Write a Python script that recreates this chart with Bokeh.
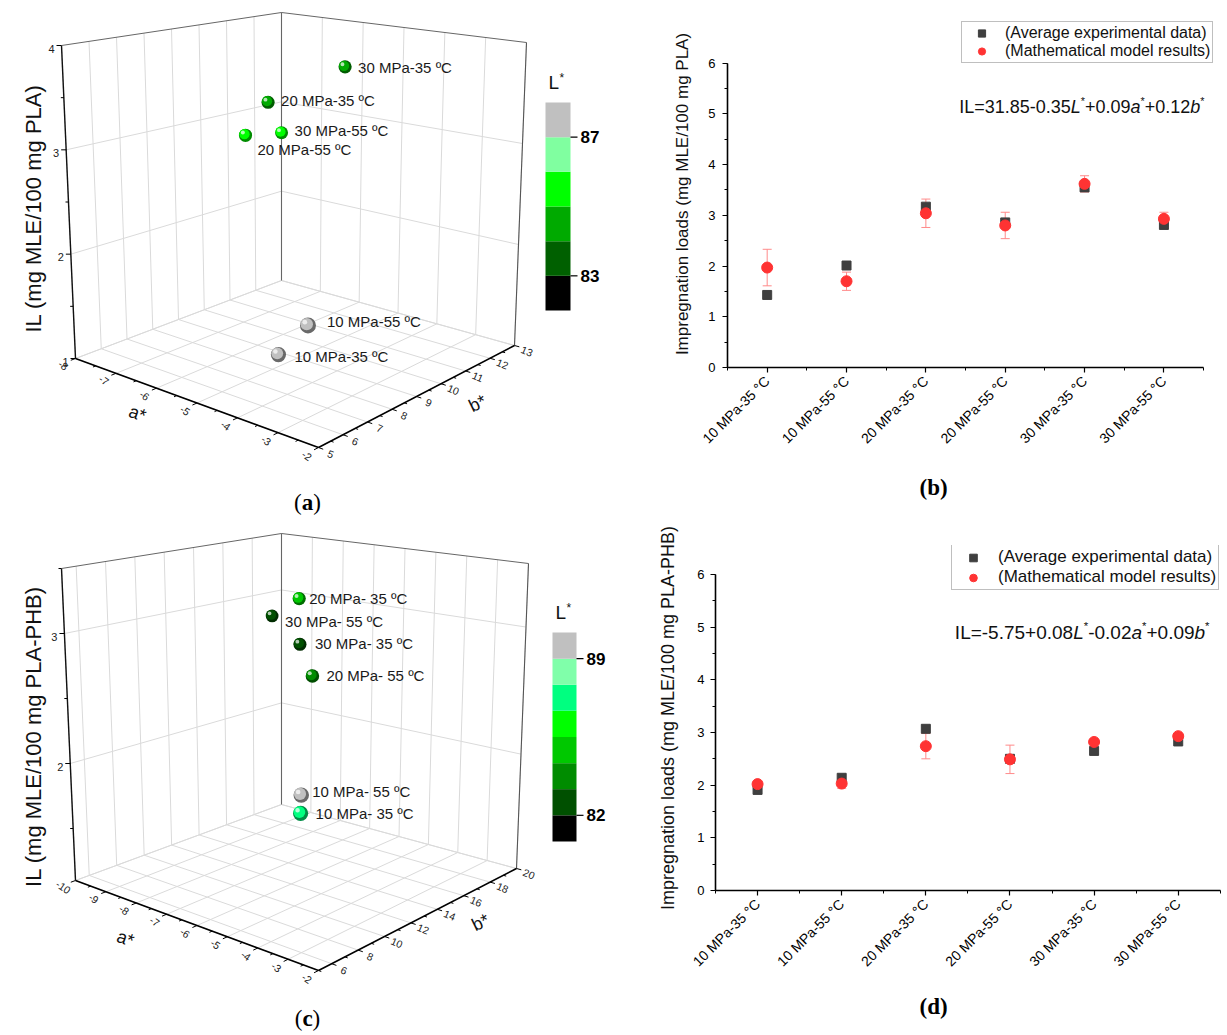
import numpy as np
from bokeh.plotting import figure
from bokeh.models import (Range1d, FixedTicker, SingleIntervalTicker, Whisker, TeeHead,
                          ColumnDataSource, Legend, LegendItem, Title)
from bokeh.layouts import row, column
from bokeh.core.properties import value
from bokeh.embed import file_html
from bokeh.resources import INLINE

SANS = "Liberation Sans"
SERIF = "Liberation Serif"

# ------------------------------------------------------------------ data
conditions = ["10 MPa-35 °C", "10 MPa-55 °C", "20 MPa-35 °C",
              "20 MPa-55 °C", "30 MPa-35 °C", "30 MPa-55 °C"]

# (b) PLA : impregnation loads
exp_pla = [1.43, 2.01, 3.17, 2.86, 3.55, 2.81]
model_pla = [1.97, 1.70, 3.04, 2.80, 3.62, 2.93]
model_err_pla = [0.36, 0.18, 0.28, 0.26, 0.16, 0.13]

# (d) PLA-PHB : impregnation loads
exp_phb = [1.91, 2.14, 3.07, 2.50, 2.65, 2.83]
model_phb = [2.02, 2.03, 2.74, 2.49, 2.82, 2.93]
model_err_phb = [0.03, 0.09, 0.24, 0.27, 0.04, 0.03]

# (a) PLA : colour coordinates (IL on vertical axis = exp_pla)
labels_pla = ["10 MPa-35 ºC", "10 MPa-55 ºC", "20 MPa-35 ºC",
              "20 MPa-55 ºC", "30 MPa-35 ºC", "30 MPa-55 ºC"]
astar_pla = [-3.9, -2.3, -7.2, -7.3, -6.1, -7.2]
bstar_pla = [6.5, 5.1, 11.3, 10.6, 12.5, 11.8]
lstar_pla = [87.6, 87.4, 84.4, 85.4, 84.2, 85.6]

# (c) PLA-PHB : colour coordinates (IL on vertical axis = exp_phb)
labels_phb = ["10 MPa- 35 ºC", "10 MPa- 55 ºC", "20 MPa- 35 ºC",
              "20 MPa- 55 ºC", "30 MPa- 35 ºC", "30 MPa- 55 ºC"]
astar_phb = [-4.15, -3.5, -8.2, -7.3, -8.5, -9.6]
bstar_phb = [8.6, 7.2, 17.4, 16.4, 18.1, 18.5]
lstar_phb = [87.2, 89.4, 84.6, 84.0, 82.9, 82.6]

# 3D axis ranges / ticks
a_range_pla, b_range_pla, il_range_pla = (-8, -2), (5, 13), (1, 4)
a_ticks_pla = [-8, -7, -6, -5, -4, -3, -2]
b_ticks_pla = [5, 6, 7, 8, 9, 10, 11, 12, 13]
il_ticks_pla = [1, 2, 3, 4]

a_range_phb, b_range_phb, il_range_phb = (-10, -2), (5, 20), (1.1, 3.5)
a_ticks_phb = [-10, -9, -8, -7, -6, -5, -4, -3, -2]
b_ticks_phb = [6, 8, 10, 12, 14, 16, 18, 20]
il_ticks_phb = [2, 3]

# L* colour scales
lstar_levels_pla = [82, 83, 84, 85, 86, 87, 88]
lstar_colors_pla = ["#000000", "#006000", "#00aa00", "#00ff00", "#80ffa0", "#c0c0c0"]
lstar_ticks_pla = [83, 87]

lstar_levels_phb = [80.83, 82, 83.17, 84.33, 85.5, 86.67, 87.83, 89, 90.17]
lstar_colors_phb = ["#000000", "#005000", "#008c00", "#00c800", "#00ff00",
                    "#00ff80", "#80ffaa", "#c0c0c0"]
lstar_ticks_phb = [82, 89]

# ------------------------------------------------------------------ helpers
ARIAL_W = {str(d): 0.556 for d in range(10)}
ARIAL_W.update({'.': .278, '+': .584, '-': .333, '=': .584, 'I': .278, 'L': .556,
                'a': .556, 'b': .556, '*': .389, ' ': .278, '(': .333, ')': .333})
TIMES_BOLD = {'a': .5, 'b': .556, 'c': .444, 'd': .556}


def tw(s, fs):
    return sum(ARIAL_W.get(c, 0.556) for c in s) * fs


def shade(h, f):
    h = h.lstrip('#')
    r, g, b = int(h[0:2], 16), int(h[2:4], 16), int(h[4:6], 16)
    return "#%02x%02x%02x" % (int(r * f), int(g * f), int(b * f))


def no_align(p):
    if "frame_align" in p.properties():
        p.frame_align = False


def make_proj(g, ar, br, zr):
    L, F, K, R = [np.array(g[k], float) for k in ("L", "F", "K", "R")]
    VL, VF, VK, VR = [np.array(g[k], float) for k in ("VL", "VF", "VK", "VR")]

    def proj(a, b, z):
        a, b, z = np.broadcast_arrays(np.asarray(a, float), np.asarray(b, float),
                                      np.asarray(z, float))
        u = (a - ar[0]) / (ar[1] - ar[0])
        v = (b - br[0]) / (br[1] - br[0])
        w = (z - zr[0]) / (zr[1] - zr[0])
        c00 = ((1 - u) * (1 - v))[..., None]
        c10 = (u * (1 - v))[..., None]
        c01 = ((1 - u) * v)[..., None]
        c11 = (u * v)[..., None]
        base = c00 * L + c10 * F + c01 * K + c11 * R
        vert = c00 * VL + c10 * VF + c01 * VK + c11 * VR
        pt = base + w[..., None] * vert
        return pt[..., 0], pt[..., 1]
    return proj


def minors(ticks, lo, hi):
    step = ticks[1] - ticks[0]
    out = []
    t = ticks[0] - step / 2.0
    while t <= hi + 1e-9:
        if t >= lo - 1e-9:
            out.append(t)
        t += step
    return out


def build_3d(c):
    p = figure(width=c["w"], height=c["h"], x_range=Range1d(*c["xr"]), y_range=Range1d(*c["yr"]),
               x_axis_type=None, y_axis_type=None, output_backend="svg", title=None,
               toolbar_location=None, min_border=0)
    no_align(p)
    p.outline_line_color = None
    p.background_fill_color = "white"
    ar, br, zr = c["ar"], c["br"], c["zr"]
    a0, a1 = ar
    b0, b1 = br
    z0, z1 = zr
    proj = make_proj(c["geom"], ar, br, zr)

    def pt(a, b, z):
        x, y = proj(a, b, z)
        return float(x), float(y)

    ga = sorted(set(c["a_ticks"]) | {a0, a1})
    gb = sorted(set(c["b_ticks"]) | {b0, b1})
    gz = sorted(set(t for t in c["z_ticks"] if t < z1) | {z0})

    segs = []
    for a in ga:
        segs.append((pt(a, b0, z0), pt(a, b1, z0)))
        segs.append((pt(a, b1, z0), pt(a, b1, z1)))
    for b in gb:
        segs.append((pt(a0, b, z0), pt(a1, b, z0)))
        segs.append((pt(a0, b, z0), pt(a0, b, z1)))
    for z in gz:
        segs.append((pt(a0, b0, z), pt(a0, b1, z)))
        segs.append((pt(a0, b1, z), pt(a1, b1, z)))
    p.segment(x0=[s[0][0] for s in segs], y0=[s[0][1] for s in segs],
              x1=[s[1][0] for s in segs], y1=[s[1][1] for s in segs],
              line_color="#dadada", line_width=1)

    edges = [((a0, b0, z0), (a0, b0, z1), "#111111", 1.4),
             ((a0, b1, z0), (a0, b1, z1), "#666666", 1.1),
             ((a1, b1, z0), (a1, b1, z1), "#555555", 1.1),
             ((a0, b0, z1), (a0, b1, z1), "#666666", 1.0),
             ((a0, b1, z1), (a1, b1, z1), "#666666", 1.0),
             ((a0, b0, z0), (a1, b0, z0), "#000000", 1.6),
             ((a1, b0, z0), (a1, b1, z0), "#000000", 1.6)]
    for A, B, col, lw in edges:
        xA, yA = pt(*A)
        xB, yB = pt(*B)
        p.segment(x0=[xA], y0=[yA], x1=[xB], y1=[yB], line_color=col, line_width=lw)

    tx0, ty0, tx1, ty1 = [], [], [], []
    la_x, la_y, la_t = [], [], []
    lb_x, lb_y, lb_t = [], [], []
    for t in c["a_ticks"] + minors(c["a_ticks"], a0, a1):
        major = t in c["a_ticks"]
        P = np.array(pt(t, b0, z0))
        Q = np.array(pt(t, b0 + 0.1 * (b1 - b0), z0))
        d = (P - Q) / np.linalg.norm(P - Q)
        E = P + d * (5 if major else 3)
        tx0.append(P[0]); ty0.append(P[1]); tx1.append(E[0]); ty1.append(E[1])
        if major:
            Lp = P + d * 13
            la_x.append(Lp[0]); la_y.append(Lp[1] + 2); la_t.append("%d" % t)
    for t in c["b_ticks"] + minors(c["b_ticks"], b0, b1):
        major = t in c["b_ticks"]
        P = np.array(pt(a1, t, z0))
        Q = np.array(pt(a1 - 0.1 * (a1 - a0), t, z0))
        d = (P - Q) / np.linalg.norm(P - Q)
        E = P + d * (5 if major else 3)
        tx0.append(P[0]); ty0.append(P[1]); tx1.append(E[0]); ty1.append(E[1])
        if major:
            Lp = P + d * 13
            lb_x.append(Lp[0]); lb_y.append(Lp[1] + 2); lb_t.append("%d" % t)
    lz_x, lz_y, lz_t = [], [], []
    for t in c["z_ticks"] + minors(c["z_ticks"], z0, z1):
        major = t in c["z_ticks"]
        P = np.array(pt(a0, b0, t))
        tx0.append(P[0]); ty0.append(P[1]); tx1.append(P[0] - (5 if major else 3)); ty1.append(P[1])
        if major:
            lz_x.append(P[0] - 7); lz_y.append(P[1] + 3); lz_t.append("%d" % t)
    p.segment(x0=tx0, y0=ty0, x1=tx1, y1=ty1, line_color="#000000", line_width=1)
    p.text(x=la_x, y=la_y, text=la_t, angle=-0.6, text_font=value(SANS), text_font_size="10.5px",
           text_align="center", text_baseline="middle", text_color="#222222")
    p.text(x=lb_x, y=lb_y, text=lb_t, angle=-0.4, text_font=value(SANS), text_font_size="10.5px",
           text_align="center", text_baseline="middle", text_color="#222222")
    p.text(x=lz_x, y=lz_y, text=lz_t, text_font=value(SANS), text_font_size="11px",
           text_align="right", text_baseline="middle", text_color="#222222")

    p.text(x=[c["zlabel_pos"][0]], y=[c["zlabel_pos"][1]], text=[c["zlabel"]], angle=np.pi / 2,
           text_font=value(SANS), text_font_size="22px", text_align="center",
           text_baseline="middle", text_color="#111111")
    p.text(x=[c["astar_pos"][0]], y=[c["astar_pos"][1]], text=["a*"], angle=-0.35,
           text_font=value(SANS), text_font_size="18px", text_align="center",
           text_baseline="middle", text_color="#111111")
    p.text(x=[c["bstar_pos"][0]], y=[c["bstar_pos"][1]], text=["b*"], angle=0.45,
           text_font=value(SANS), text_font_size="18px", text_align="center",
           text_baseline="middle", text_color="#111111")

    av, bv, zv = np.array(c["a"], float), np.array(c["b"], float), np.array(c["z"], float)
    px, py = proj(av, bv, zv)
    u = (av - a0) / (a1 - a0)
    v = (bv - b0) / (b1 - b0)
    close = u - v
    size = 12.5 + 1.8 * (close + 1)
    levels, colors = c["levels"], c["colors"]
    idx = np.clip(np.searchsorted(levels, c["L"], side="right") - 1, 0, len(colors) - 1)
    cols = [colors[i] for i in idx]
    sx, sy, ss, sc, sa = [], [], [], [], []
    for i in np.argsort(close):
        s = size[i]
        sx += [px[i], px[i] - 0.08 * s, px[i] - 0.2 * s]
        sy += [py[i], py[i] - 0.08 * s, py[i] - 0.2 * s]
        ss += [s, 0.78 * s, 0.3 * s]
        sc += [shade(cols[i], 0.55), cols[i], "#ffffff"]
        sa += [1.0, 1.0, 0.7]
    p.scatter(x=sx, y=sy, size=ss, fill_color=sc, fill_alpha=sa, line_color=None, marker="circle")
    p.text(x=list(px + np.array(c["ldx"])), y=list(py + np.array(c["ldy"])), text=c["names"],
           text_font=value(SANS), text_font_size="15px", text_align="left",
           text_baseline="middle", text_color="#1a1a1a")

    x0c, x1c, ybot, ytop = c["cb_box"]
    lv = np.array(levels, float)
    ys = ybot + (lv - lv[0]) / (lv[-1] - lv[0]) * (ytop - ybot)
    p.quad(left=x0c, right=x1c, bottom=list(ys[:-1]), top=list(ys[1:]),
           fill_color=colors, line_color=None)
    tys = [float(ybot + (t - lv[0]) / (lv[-1] - lv[0]) * (ytop - ybot)) for t in c["cb_ticks"]]
    p.segment(x0=[x1c] * len(tys), x1=[x1c + 7] * len(tys), y0=tys, y1=tys,
              line_color="#000000", line_width=1.2)
    p.text(x=[x1c + 10] * len(tys), y=tys, text=["%d" % t for t in c["cb_ticks"]],
           text_font=value(SANS), text_font_size="17px", text_font_style="bold",
           text_align="left", text_baseline="middle", text_color="#000000")
    p.text(x=[x0c + 3, x0c + 14], y=[ytop - 20, ytop - 25], text=["L", "*"],
           text_font=value(SANS), text_font_size=["19px", "12px"],
           text_align="left", text_baseline="middle", text_color="#111111")

    fs = 23
    letter = c["caption"]
    wtot = (0.333 + TIMES_BOLD[letter] + 0.333) * fs
    cx, cy = c["cap_pos"]
    xs0 = cx - wtot / 2
    p.text(x=[xs0, xs0 + 0.333 * fs, xs0 + (0.333 + TIMES_BOLD[letter]) * fs], y=[cy] * 3,
           text=["(", letter, ")"], text_font_style=["normal", "bold", "normal"],
           text_font=value(SERIF), text_font_size="%dpx" % fs, text_align="left",
           text_baseline="middle", text_color="#000000")
    return p


def build_2d(c):
    n = len(conditions)
    xs = list(range(1, n + 1))
    p = figure(width=c["w"], height=c["h"], x_range=Range1d(0.5, c["x_hi"]),
               y_range=Range1d(0, c["y_hi"]),
               output_backend="svg", toolbar_location=None, title=None,
               min_border_left=c["mb"][0], min_border_right=c["mb"][1],
               min_border_top=c["mb"][2], min_border_bottom=c["mb"][3])
    no_align(p)
    p.outline_line_color = None
    p.grid.visible = False
    p.xaxis.ticker = FixedTicker(ticks=xs, minor_ticks=[i + 0.5 for i in range(n + 1)])
    p.xaxis.major_label_overrides = {i + 1: conditions[i] for i in range(n)}
    p.xaxis.major_label_orientation = np.pi / 4
    p.xaxis.bounds = (0.5, n + 0.5)
    p.yaxis.ticker = SingleIntervalTicker(interval=1, num_minor_ticks=2)
    p.yaxis.bounds = (0, 6)
    for ax in (p.xaxis, p.yaxis):
        ax.axis_line_width = 1.6
        ax.axis_line_color = "#000000"
        ax.major_tick_in = 0
        ax.major_tick_out = 5
        ax.minor_tick_in = 0
        ax.minor_tick_out = 3
        ax.major_tick_line_width = 1.2
        ax.major_tick_line_color = "#000000"
        ax.minor_tick_line_color = "#000000"
        ax.major_label_text_font = SANS
        ax.major_label_text_color = "#000000"
    p.yaxis.major_label_text_font_size = "13px"
    p.xaxis.major_label_text_font_size = "14px"
    p.yaxis.major_label_standoff = c["ystand"]
    p.xaxis.major_label_standoff = 6
    p.yaxis.axis_label = c["ylabel"]
    p.yaxis.axis_label_text_font = SANS
    p.yaxis.axis_label_text_font_style = "normal"
    p.yaxis.axis_label_text_font_size = c["ylabel_fs"]
    p.yaxis.axis_label_text_color = "#111111"
    p.yaxis.axis_label_standoff = c["ylabel_stand"]

    lower = [m - e for m, e in zip(c["model"], c["err"])]
    upper = [m + e for m, e in zip(c["model"], c["err"])]
    src = ColumnDataSource(dict(x=xs, lower=lower, upper=upper))
    ecol = "#ff8a8a"
    p.add_layout(Whisker(source=src, base="x", lower="lower", upper="upper",
                         line_color=ecol, line_width=1,
                         upper_head=TeeHead(size=9, line_color=ecol, line_width=1),
                         lower_head=TeeHead(size=9, line_color=ecol, line_width=1)))
    r_exp = p.scatter(x=xs, y=c["exp"], marker="square", size=9, fill_color="#3f3f3f",
                      line_color="#3f3f3f")
    r_mod = p.scatter(x=xs, y=c["model"], marker="circle", size=11, fill_color="#ff3333",
                      line_color="#ff3333")

    lg = Legend(items=[LegendItem(label="(Average experimental data)", renderers=[r_exp]),
                       LegendItem(label="(Mathematical model results)", renderers=[r_mod])],
                location=c["leg_loc"], margin=0, padding=2, spacing=0,
                glyph_width=c["leg_gw"], glyph_height=c["leg_h"], label_height=c["leg_h"],
                label_standoff=6, label_text_font=SANS, label_text_font_size=c["leg_fs"],
                label_text_color="#111111", border_line_color="#808080", border_line_width=1,
                background_fill_alpha=1.0)
    p.add_layout(lg, "center")

    fs = c["eq_fs"]
    offs, tx, st, fss, yo = [], [], [], [], []
    cur = 0.0
    for text, style, sup in c["eq_parts"]:
        f = fs * 0.6 if sup else fs
        offs.append(cur)
        tx.append(text)
        st.append(style)
        fss.append("%.1fpx" % f)
        yo.append(-0.33 * fs if sup else 0.0)
        cur += tw(text, f)
    ex, ey = c["eq_xy"]
    p.text(x=[ex] * len(tx), y=[ey] * len(tx), text=tx, x_offset=offs, y_offset=yo,
           text_font=value(SANS), text_font_size=fss, text_font_style=st,
           text_align="left", text_baseline="alphabetic", text_color="#111111")

    cap = Title(text="(%s)" % c["caption"], align="left", offset=c["cap_offset"],
                standoff=c["cap_standoff"], text_font=SERIF, text_font_size="23px",
                text_font_style="bold", text_color="#000000")
    p.add_layout(cap, "below")
    return p


cfg_a = dict(w=620, h=520, xr=(0, 620), yr=(520, 0),
             geom=dict(L=(75, 358), F=(318, 447), K=(281, 280), R=(514, 345),
                       VL=(-14, -313), VF=(-2, -348), VK=(0, -268), VR=(12, -303)),
             ar=a_range_pla, br=b_range_pla, zr=il_range_pla,
             a_ticks=a_ticks_pla, b_ticks=b_ticks_pla, z_ticks=il_ticks_pla,
             a=astar_pla, b=bstar_pla, z=exp_pla, L=lstar_pla, names=labels_pla,
             ldx=[16, 19, 13, 12, 13, 13], ldy=[2, -4, -2, 14, 1, -2],
             levels=lstar_levels_pla, colors=lstar_colors_pla, cb_ticks=lstar_ticks_pla,
             cb_box=(545, 570, 310, 102),
             zlabel="IL (mg MLE/100 mg PLA)", zlabel_pos=(33, 208),
             astar_pos=(137, 413), bstar_pos=(477, 403),
             caption="a", cap_pos=(307, 502))

cfg_c = dict(w=620, h=515, xr=(0, 620), yr=(1035, 520),
             geom=dict(L=(75, 880), F=(318, 970), K=(281, 804), R=(516, 868),
                       VL=(-14, -312), VF=(-2, -345), VK=(0, -271), VR=(12, -305)),
             ar=a_range_phb, br=b_range_phb, zr=il_range_phb,
             a_ticks=a_ticks_phb, b_ticks=b_ticks_phb, z_ticks=il_ticks_phb,
             a=astar_phb, b=bstar_phb, z=exp_phb, L=lstar_phb, names=labels_phb,
             ldx=[15, 11, 10, 14, 15, 13], ldy=[0, -4, 0, 0, -1, 6],
             levels=lstar_levels_phb, colors=lstar_colors_phb, cb_ticks=lstar_ticks_phb,
             cb_box=(552, 576, 841, 632),
             zlabel="IL (mg MLE/100 mg PLA-PHB)", zlabel_pos=(33, 736),
             astar_pos=(125, 938), bstar_pos=(480, 922),
             caption="c", cap_pos=(307, 1018))

eq_pla = [("IL=31.85-0.35", "normal", False), ("L", "italic", False), ("*", "normal", True),
          ("+0.09", "normal", False), ("a", "italic", False), ("*", "normal", True),
          ("+0.12", "normal", False), ("b", "italic", False), ("*", "normal", True)]
eq_phb = [("IL=-5.75+0.08", "normal", False), ("L", "italic", False), ("*", "normal", True),
          ("-0.02", "normal", False), ("a", "italic", False), ("*", "normal", True),
          ("+0.09", "normal", False), ("b", "italic", False), ("*", "normal", True)]

cfg_b = dict(w=607, h=520, mb=(107, 12, 20, 153), x_hi=6.65, y_hi=6.84,
             exp=exp_pla, model=model_pla, err=model_err_pla,
             ylabel="Impregnation loads (mg MLE/100 mg PLA)", ylabel_fs="17px", ylabel_stand=13,
             ystand=7, leg_loc=(234, 304), leg_gw=35, leg_h=18, leg_fs="16px",
             eq_parts=eq_pla, eq_fs=18, eq_xy=(3.42, 5.14),
             caption="b", cap_offset=192, cap_standoff=35)

cfg_d = dict(w=607, h=515, mb=(95, 3, 25, 145), x_hi=6.55, y_hi=6.55,
             exp=exp_phb, model=model_phb, err=model_err_phb,
             ylabel="Impregnation loads (mg MLE/100 mg PLA-PHB)", ylabel_fs="18px", ylabel_stand=16,
             ystand=6, leg_loc=(236, 300), leg_gw=38, leg_h=19, leg_fs="17px",
             eq_parts=eq_phb, eq_fs=19, eq_xy=(3.345, 4.90),
             caption="d", cap_offset=204, cap_standoff=27)

pa = build_3d(cfg_a)
pb = build_2d(cfg_b)
pc = build_3d(cfg_c)
pd = build_2d(cfg_d)

layout = column(row(column(pa), column(pb)), row(column(pc), column(pd)))
open("out.html", "w").write(file_html(layout, INLINE))
